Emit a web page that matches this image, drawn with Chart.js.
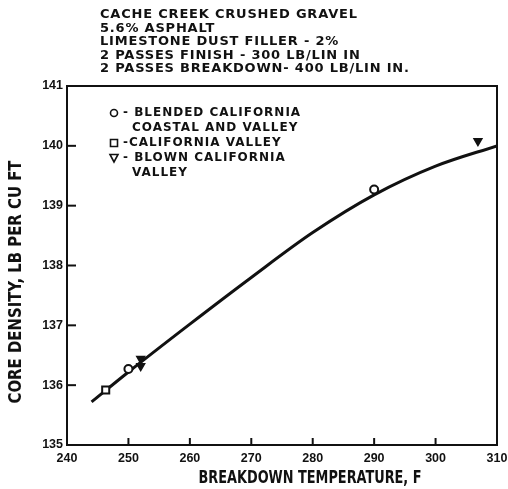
<!DOCTYPE html>
<html>
<head>
<meta charset="utf-8">
<script src="https://cdn.jsdelivr.net/npm/chart.js@4/dist/chart.umd.min.js"></script>
<style>
  html, body { margin: 0; padding: 0; background: #fff; }
</style>
</head>
<body>
<canvas id="chart1" width="508" height="489"></canvas>
<script>
// fitted curve
const curveTemps = [244, 250, 260, 270, 280, 290, 300, 310]
const curveDensity = [135.72, 136.22, 137.02, 137.8, 138.55, 139.18, 139.66, 140.0]

// blended california coastal and valley (circles)
const blendedTemps = [250, 290]
const blendedDensity = [136.27, 139.27]

// california valley (squares)
const valleyTemps = [246.3]
const valleyDensity = [135.92]

// blown california valley (triangles)
const blownTemps = [252, 252, 306.9]
const blownDensity = [136.44, 136.32, 140.08]

const xTicks = [240, 250, 260, 270, 280, 290, 300, 310]
const yTicks = [135, 136, 137, 138, 139, 140, 141]

const xTitle = 'BREAKDOWN TEMPERATURE, F'
const yTitle = 'CORE DENSITY, LB PER CU FT'

const titleLines = [
  'CACHE CREEK CRUSHED GRAVEL',
  '5.6% ASPHALT',
  'LIMESTONE DUST FILLER - 2%',
  '2 PASSES FINISH - 300 LB/LIN IN',
  '2 PASSES BREAKDOWN- 400 LB/LIN IN.'
]

const legendItems = [
  { marker: 'circle', lines: ['- BLENDED CALIFORNIA', 'COASTAL AND VALLEY'] },
  { marker: 'rect', lines: ['-CALIFORNIA VALLEY'] },
  { marker: 'triangle', lines: ['- BLOWN CALIFORNIA', 'VALLEY'] }
]

function toPoints(xs, ys) {
  const pts = []
  for (let i = 0; i < xs.length; i++) {
    pts.push({ x: xs[i], y: ys[i] })
  }
  return pts
}

const ink = '#111'
const narrowFont = 'bold 17px "Liberation Sans Narrow", "DejaVu Sans Condensed", sans-serif'
const tickFont = { family: 'Liberation Sans', weight: 'bold', size: 12.5 }

// tall, squeezed lettering like the hand lettered axis titles
function squeezedText(ctx, txt, cx, cy, width, angle) {
  ctx.save()
  ctx.font = narrowFont
  const w = ctx.measureText(txt).width
  ctx.translate(cx, cy)
  ctx.rotate(angle)
  ctx.scale(Math.min(1, width / w), 1)
  ctx.fillText(txt, 0, 0)
  ctx.restore()
}

// frame, inward ticks, header text, axis titles and the legend box
const decorations = {
  id: 'decorations',
  afterDraw(chart) {
    const ctx = chart.ctx
    const area = chart.chartArea
    const xs = chart.scales.x
    const ys = chart.scales.y
    ctx.save()
    ctx.strokeStyle = ink
    ctx.lineWidth = 2
    ctx.strokeRect(area.left, area.top, area.right - area.left, area.bottom - area.top)

    for (let i = 1; i < xTicks.length - 1; i++) {
      const px = xs.getPixelForValue(xTicks[i])
      ctx.beginPath()
      ctx.moveTo(px, area.bottom)
      ctx.lineTo(px, area.bottom - 7)
      ctx.stroke()
    }
    for (let i = 1; i < yTicks.length - 1; i++) {
      const py = ys.getPixelForValue(yTicks[i])
      ctx.beginPath()
      ctx.moveTo(area.left, py)
      ctx.lineTo(area.left + 9, py)
      ctx.stroke()
    }

    ctx.fillStyle = ink
    ctx.textBaseline = 'middle'

    // axis titles
    ctx.textAlign = 'center'
    squeezedText(ctx, xTitle, 310, 479, 223, 0)
    squeezedText(ctx, yTitle, 17, 282, 243, -Math.PI / 2)

    // header
    ctx.textAlign = 'left'
    ctx.font = 'bold 13px "DejaVu Sans"'
    ctx.letterSpacing = '0.8px'
    for (let i = 0; i < titleLines.length; i++) {
      ctx.fillText(titleLines[i], 100, 15 + i * 13.4)
    }

    // legend
    ctx.font = 'bold 12px "DejaVu Sans"'
    ctx.letterSpacing = '1px'
    let ly = 113
    legendItems.forEach(item => {
      const mx = 114
      ctx.lineWidth = 1.6
      ctx.beginPath()
      if (item.marker === 'circle') {
        ctx.arc(mx, ly, 3.5, 0, Math.PI * 2)
      } else if (item.marker === 'rect') {
        ctx.rect(mx - 3.5, ly - 3.5, 7, 7)
      } else {
        ctx.moveTo(mx - 4, ly - 3.5)
        ctx.lineTo(mx + 4, ly - 3.5)
        ctx.lineTo(mx, ly + 4)
        ctx.closePath()
      }
      ctx.stroke()
      item.lines.forEach((txt, j) => {
        ctx.fillText(txt, j === 0 ? 123 : 132, ly + j * 15)
      })
      ly += item.lines.length * 15
    })
    ctx.restore()
  }
}

const ctx1 = document.getElementById('chart1').getContext('2d')
const chart1 = new Chart(ctx1, {
  type: 'scatter',
  data: {
    datasets: [
      {
        label: 'curve',
        data: toPoints(curveTemps, curveDensity),
        showLine: true,
        borderColor: ink,
        borderWidth: 3,
        pointRadius: 0,
        cubicInterpolationMode: 'monotone',
        order: 2
      },
      {
        label: 'BLENDED CALIFORNIA COASTAL AND VALLEY',
        data: toPoints(blendedTemps, blendedDensity),
        pointStyle: 'circle',
        pointRadius: 4,
        pointBorderWidth: 2,
        pointBackgroundColor: '#fff',
        pointBorderColor: ink,
        order: 1
      },
      {
        label: 'CALIFORNIA VALLEY',
        data: toPoints(valleyTemps, valleyDensity),
        pointStyle: 'rect',
        pointRadius: 5,
        pointBorderWidth: 2,
        pointBackgroundColor: '#fff',
        pointBorderColor: ink,
        order: 1
      },
      {
        label: 'BLOWN CALIFORNIA VALLEY',
        data: toPoints(blownTemps, blownDensity),
        pointStyle: 'triangle',
        rotation: 180,
        pointRadius: 4.5,
        pointBorderWidth: 1.5,
        pointBackgroundColor: ink,
        pointBorderColor: ink,
        order: 1
      }
    ]
  },
  options: {
    responsive: false,
    animation: false,
    devicePixelRatio: 1,
    layout: { padding: { top: 86, right: 11, left: 0, bottom: 0 } },
    plugins: {
      legend: { display: false },
      tooltip: { enabled: false }
    },
    scales: {
      x: {
        type: 'linear',
        min: 240,
        max: 310,
        afterBuildTicks: scale => { scale.ticks = xTicks.map(v => ({ value: v })) },
        afterFit: scale => {
          scale.height = 44
          scale.paddingLeft = 0
          scale.paddingRight = 0
        },
        grid: { display: false, drawTicks: false },
        border: { display: false },
        ticks: {
          color: ink,
          padding: 6,
          maxRotation: 0,
          font: tickFont
        }
      },
      y: {
        type: 'linear',
        min: 135,
        max: 141,
        afterBuildTicks: scale => { scale.ticks = yTicks.map(v => ({ value: v })) },
        afterFit: scale => {
          scale.width = 67
          scale.paddingTop = 0
          scale.paddingBottom = 0
        },
        grid: { display: false, drawTicks: false },
        border: { display: false },
        ticks: {
          color: ink,
          padding: 4,
          font: tickFont
        }
      }
    }
  },
  plugins: [decorations]
})
</script>
</body>
</html>
